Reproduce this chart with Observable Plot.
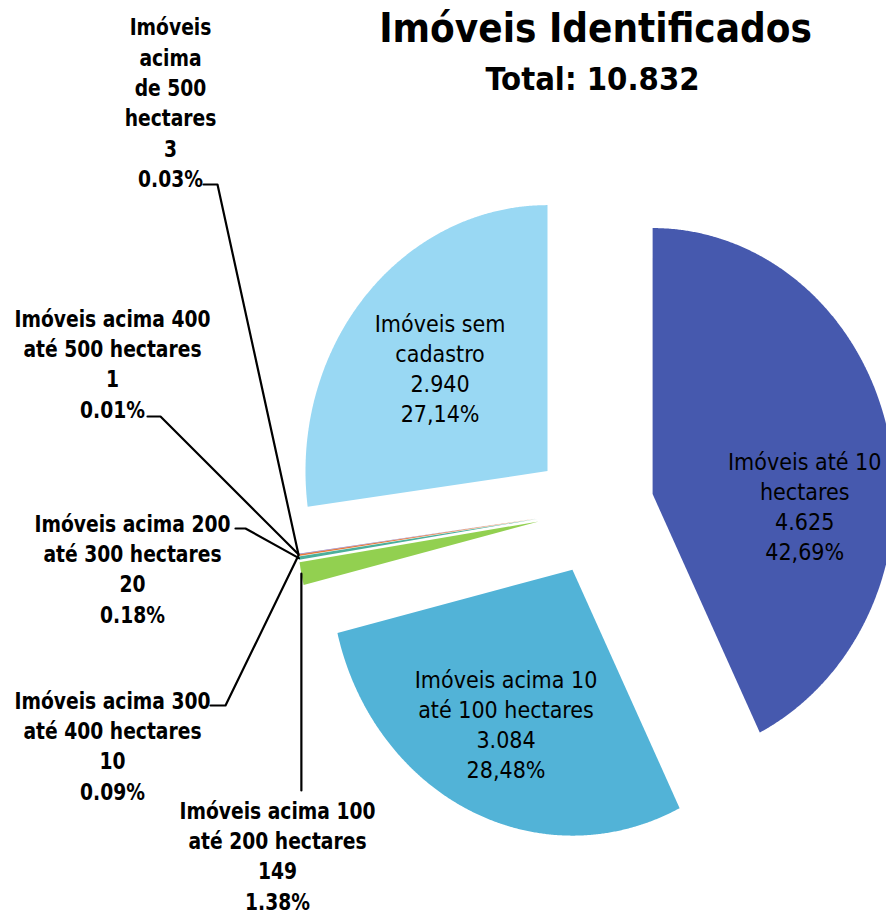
<!DOCTYPE html>
<html>
<head>
<meta charset="utf-8">
<script src="https://cdn.jsdelivr.net/npm/d3@7"></script>
<script src="https://cdn.jsdelivr.net/npm/@observablehq/plot@0.6"></script>
<style>
  html, body { margin: 0; padding: 0; background: #fff; }
  #chart svg { display: block; }
  #chart svg text { font-stretch: condensed; }
</style>
</head>
<body>
<div id="chart"></div>
<script>
// ---- data ----
const categorias = [
  "Imóveis até 10 hectares",
  "Imóveis acima 10 até 100 hectares",
  "Imóveis acima 100 até 200 hectares",
  "Imóveis acima 200 até 300 hectares",
  "Imóveis acima 300 até 400 hectares",
  "Imóveis acima 400 até 500 hectares",
  "Imóveis acima de 500 hectares",
  "Imóveis sem cadastro"
];
const quantidades = [4625, 3084, 149, 20, 10, 1, 3, 2940];
const quantidadesTexto = ["4.625", "3.084", "149", "20", "10", "1", "3", "2.940"];
const percentuais = ["42,69%", "28,48%", "1.38%", "0.18%", "0.09%", "0.01%", "0.03%", "27,14%"];
const rotulos = [
  ["Imóveis até 10", "hectares"],
  ["Imóveis acima 10", "até 100 hectares"],
  ["Imóveis acima 100", "até 200 hectares"],
  ["Imóveis acima 200", "até 300 hectares"],
  ["Imóveis acima 300", "até 400 hectares"],
  ["Imóveis acima 400", "até 500 hectares"],
  ["Imóveis", "acima", "de 500", "hectares"],
  ["Imóveis sem", "cadastro"]
];
const titulo = "Imóveis Identificados";
const subtitulo = "Total: 10.832";
const cores = ["#4659AE", "#52B3D7", "#92D050", "#4BAF9B", "#E57A3A", "#C0504D", "#7E6FC2", "#99D8F3"];

// ---- layout ----
const W = 886, H = 915;
const O = [588, 510];          // pie centre (px)
const RX = 242, RY = 266;      // pie radii (px)
const explode = [0.272, 0.232, 0.21, 0.21, 0.21, 0.21, 0.21, 0.225];
const explodeDir = {1: 196.6}; // degrees, when it differs from the bisector
const inside = {0: [94, 0.63], 1: [205.4, 0.64], 7: [311.2, 0.59]};   // label polar (deg, r) from slice centre
const outside = {   // text block centre, leader start, elbow
  6: {c: [170, 101], from: [203, 184], elbow: [217, 184]},
  5: {c: [112, 362], from: [147, 416], elbow: [160, 416]},
  3: {c: [132, 567], from: [235, 528], elbow: [245, 528]},
  4: {c: [112, 744], from: [210, 705], elbow: [225, 705]},
  2: {c: [277, 854], from: null, elbowY: 790}
};

const pt = (a, r, e, m) => [
  O[0] + RX * (e * Math.sin(m) + r * Math.sin(a)),
  O[1] - RY * (e * Math.cos(m) + r * Math.cos(a))
];
const exDir = (i, a) => explodeDir[i] != null ? explodeDir[i] * Math.PI / 180 : (a.startAngle + a.endAngle) / 2;

const arcs = d3.pie().sort(null).value(d => d)(quantidades);
const wedges = [];
arcs.forEach((a, i) => {
  const m = exDir(i, a), e = explode[i];
  const c = pt(0, 0, e, m);
  wedges.push({name: categorias[i], x: c[0], y: c[1]});
  const n = Math.max(2, Math.ceil((a.endAngle - a.startAngle) / 0.005));
  for (let k = 0; k <= n; k++) {
    const t = a.startAngle + (a.endAngle - a.startAngle) * k / n;
    const p = pt(t, 1, e, m);
    wedges.push({name: categorias[i], x: p[0], y: p[1]});
  }
});

const insideLabels = Object.entries(inside).map(([i, [deg, r]]) => {
  i = +i;
  const p = pt(deg * Math.PI / 180, r, explode[i], exDir(i, arcs[i]));
  return {x: p[0], y: p[1], text: [...rotulos[i], quantidadesTexto[i], percentuais[i]].join("\n")};
});

const outsideLabels = Object.entries(outside).map(([i, o]) => {
  i = +i;
  return {x: o.c[0], y: o.c[1], text: [...rotulos[i], quantidadesTexto[i], percentuais[i]].join("\n")};
});

const leaders = [];
Object.entries(outside).forEach(([i, o]) => {
  i = +i;
  const a = arcs[i], m = (a.startAngle + a.endAngle) / 2;
  const end = pt(m, 1, explode[i], exDir(i, a));
  const pts = o.from ? [o.from, o.elbow, end] : [[end[0], o.elbowY], end];
  pts.forEach(p => leaders.push({id: i, x: p[0], y: p[1]}));
});

const font = "'DejaVu Sans Condensed', 'DejaVu Sans', sans-serif";
const chart = Plot.plot({
  width: W, height: H,
  margin: 0,
  x: {domain: [0, W], range: [0, W], axis: null},
  y: {domain: [0, H], range: [0, H], axis: null},
  color: {domain: categorias, range: cores},
  style: {background: "#fff"},
  marks: [
    Plot.line(wedges, {x: "x", y: "y", z: "name", fill: "name", stroke: "none", curve: "linear-closed"}),
    Plot.line(leaders, {x: "x", y: "y", z: "id", stroke: "#000", strokeWidth: 2.2}),
    Plot.text(insideLabels, {x: "x", y: "y", text: "text", lineHeight: 1.3, fontSize: 23,
      fontFamily: font, fill: "#000"}),
    Plot.text(outsideLabels, {x: "x", y: "y", text: "text", lineHeight: 1.3, fontSize: 20.8, fontWeight: "bold",
      fontFamily: font, fill: "#000"}),
    Plot.text([titulo], {frameAnchor: "top", dx: 152, dy: 29, lineAnchor: "middle", fontSize: 40, fontWeight: "bold",
      fontFamily: font, fill: "#000"}),
    Plot.text([subtitulo], {frameAnchor: "top", dx: 149, dy: 79, lineAnchor: "middle", fontSize: 32.5, fontWeight: "bold",
      fontFamily: font, fill: "#000"})
  ]
});

// stretch the bold outside labels vertically (narrow, tall lettering of the original)
const groups = chart.querySelectorAll('g[aria-label="text"]');
const stretch = (g, sx, sy) => g.querySelectorAll("text").forEach(el => {
  let tr = el.getAttribute("transform") || "";
  if (el.hasAttribute("x") || el.hasAttribute("y")) {
    const x = +el.getAttribute("x") || 0, y = +el.getAttribute("y") || 0;
    el.removeAttribute("x"); el.removeAttribute("y");
    tr += ` translate(${x},${y})`;
  }
  el.setAttribute("transform", `${tr} scale(${sx},${sy})`);
});
if (groups[1]) stretch(groups[1], 1, 1.12);
document.getElementById("chart").appendChild(chart);
</script>
</body>
</html>
